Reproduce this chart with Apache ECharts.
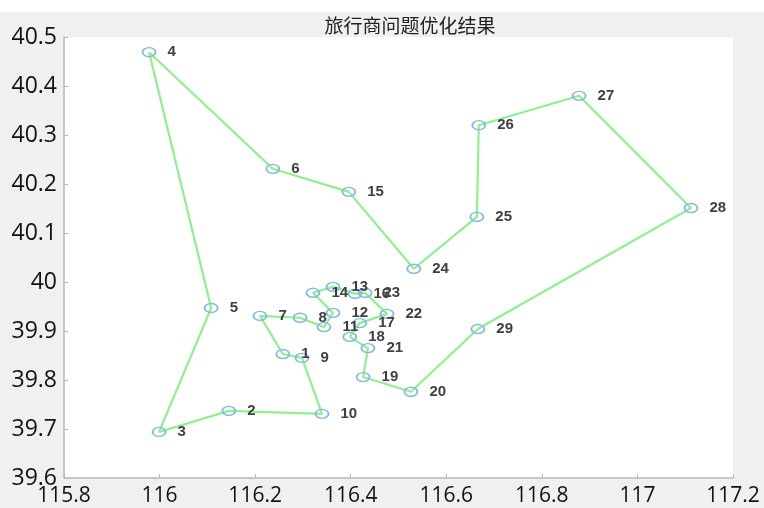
<!DOCTYPE html>
<html>
<head>
<meta charset="utf-8">
<script src="https://cdn.jsdelivr.net/npm/echarts@6/dist/echarts.min.js"></script>
<style>html,body{margin:0;padding:0;background:#f0f0f0;}#c{width:764px;height:508px;}</style>
</head>
<body>
<div id="c"></div>
<script>
// City numbers 1..29 and their coordinates (longitude, latitude)
const cityIds = [1,2,3,4,5,6,7,8,9,10,11,12,13,14,15,16,17,18,19,20,21,22,23,24,25,26,27,28,29];
const cityX = [116.258,116.145,115.999,115.978,116.108,116.237,116.210,116.294,116.298,116.340,
               116.344,116.363,116.363,116.321,116.396,116.409,116.419,116.398,116.426,116.526,
               116.436,116.476,116.430,116.532,116.664,116.668,116.878,117.112,116.666];
const cityY = [39.853,39.737,39.694,40.469,39.947,40.231,39.931,39.927,39.845,39.731,
               39.908,39.937,39.990,39.978,40.184,39.976,39.916,39.888,39.806,39.776,
               39.865,39.935,39.978,40.027,40.133,40.320,40.380,40.151,39.904];
// Optimized tour (visiting order of city numbers)
const tourOrder = [4,6,15,24,25,26,27,28,29,20,19,21,18,17,22,23,16,13,14,12,11,8,7,1,9,10,2,3,5];
const xTicks = {min:115.8, max:117.2, interval:0.2};
const yTicks = {min:39.6, max:40.5, interval:0.1};
const titleText = '旅行商问题优化结果';

const pathData = tourOrder.concat([tourOrder[0]]).map(id => [cityX[id-1], cityY[id-1]]);
const pointData = cityIds.map((id,i) => ({value:[cityX[i], cityY[i]], name:String(id)}));

const chart = echarts.init(document.getElementById('c'), null, {renderer:'canvas'});
const fontFam = 'Open Sans, Noto Sans, sans-serif';
chart.setOption({
  backgroundColor:'#f0f0f0',
  animation:false,
  graphic:[{type:'rect', left:0, top:0, shape:{width:764, height:12}, style:{fill:'#ffffff'}, z:-1}],
  title:{text:titleText, left:405, top:11, textAlign:'center',
         textStyle:{fontSize:19, fontWeight:'normal', color:'#222', fontFamily:'Noto Sans CJK SC, sans-serif'}},
  grid:{left:64, right:31, top:37, bottom:30, show:true, backgroundColor:'#ffffff', borderWidth:0},
  xAxis:{type:'value', min:xTicks.min, max:xTicks.max, interval:xTicks.interval,
         axisLine:{show:true, lineStyle:{color:'#b8b8b8', width:1.5}},
         axisTick:{show:true, inside:true, length:4, lineStyle:{color:'#b8b8b8'}},
         splitLine:{show:false},
         axisLabel:{margin:8, fontFamily:fontFam, fontSize:21, color:'#111'}},
  yAxis:{type:'value', min:yTicks.min, max:yTicks.max, interval:yTicks.interval,
         axisLine:{show:true, lineStyle:{color:'#b8b8b8', width:1.5}},
         axisTick:{show:true, inside:true, length:4, lineStyle:{color:'#b8b8b8'}},
         splitLine:{show:false},
         axisLabel:{margin:7, fontFamily:fontFam, fontSize:23, color:'#111'}},
  series:[
    {type:'line', data:pathData, showSymbol:false, symbol:'none',
     lineStyle:{color:'#8ff08f', width:2.2}, z:2},
    {type:'scatter', data:pointData, symbol:'circle', symbolSize:[13,9],
     itemStyle:{color:'rgba(255,255,255,0)', borderColor:'#86b8e8', borderWidth:1.6, opacity:1},
     label:{show:true, position:'right', distance:11, formatter:'{b}',
            fontSize:15, fontWeight:'bold', color:'#404040', fontFamily:'Liberation Sans, Arial, sans-serif'},
     labelLayout:{hideOverlap:false}, z:3}
  ]
});
</script>
</body>
</html>
